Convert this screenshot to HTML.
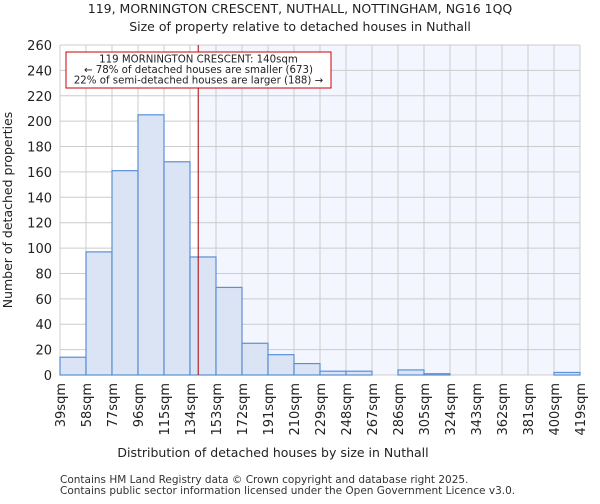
<!DOCTYPE html>
<html><head><meta charset="utf-8"><style>
body{margin:0;background:#fff;font-family:"DejaVu Sans","Liberation Sans",sans-serif;}
</style></head><body>
<svg width="600" height="500" viewBox="0 0 600 500" xmlns="http://www.w3.org/2000/svg" font-family="DejaVu Sans, Liberation Sans, sans-serif">
<text x="300" y="13" text-anchor="middle" font-size="12.5" fill="#222">119, MORNINGTON CRESCENT, NUTHALL, NOTTINGHAM, NG16 1QQ</text>
<text x="300" y="31" text-anchor="middle" font-size="12.5" fill="#222">Size of property relative to detached houses in Nuthall</text>
<g id="plot"></g>
<text x="273" y="457" text-anchor="middle" font-size="12.5" fill="#222">Distribution of detached houses by size in Nuthall</text>
<text transform="translate(12,210) rotate(-90)" text-anchor="middle" font-size="12.5" fill="#222">Number of detached properties</text>
<text x="60" y="483" font-size="10.5" fill="#333">Contains HM Land Registry data © Crown copyright and database right 2025.</text>
<text x="60" y="494" font-size="10.5" fill="#333">Contains public sector information licensed under the Open Government Licence v3.0.</text>
</svg>
<script>
const binEdges=[39,58,77,96,115,134,153,172,191,210,229,248,267,286,305,324,343,362,381,400,419];
const counts=[14,97,161,205,168,93,69,25,16,9,3,3,0,4,1,0,0,0,0,2];
const yTicks=[0,20,40,60,80,100,120,140,160,180,200,220,240,260];
const propertySize=140;
const annotationLines=["119 MORNINGTON CRESCENT: 140sqm","← 78% of detached houses are smaller (673)","22% of semi-detached houses are larger (188) →"];
const X0=60,X1=580,Y0=375,Y1=45,YMAX=260;
const xs=v=>X0+(v-binEdges[0])/(binEdges[binEdges.length-1]-binEdges[0])*(X1-X0);
const ys=v=>Y0-v/YMAX*(Y0-Y1);
const NS="http://www.w3.org/2000/svg";
const g=document.getElementById('plot');
function mk(t,a){const e=document.createElementNS(NS,t);for(const k in a)e.setAttribute(k,a[k]);g.appendChild(e);return e;}
let e;
e=mk('rect',{x:xs(propertySize),y:Y1,width:X1-xs(propertySize),height:Y0-Y1,fill:'#f3f6fe'});


yTicks.forEach(t=>{
 e=mk('line',{x1:X0,x2:X1,y1:ys(t),y2:ys(t),stroke:'#ccc','stroke-width':1});
 
 
 e=mk('text',{x:X0-8,y:ys(t)+5,'text-anchor':'end','font-size':13,fill:'#222'});e.textContent=t;
 
 
});
binEdges.forEach(b=>{
 e=mk('line',{x1:xs(b),x2:xs(b),y1:Y1,y2:Y0,stroke:'#ccc','stroke-width':1});
 
 
 e=mk('text',{transform:`translate(${xs(b)+5},${Y0+8}) rotate(-90)`,'text-anchor':'end','font-size':13,fill:'#222'});e.textContent=b+'sqm';
 
 
});
counts.forEach((c,i)=>{
 const x=xs(binEdges[i]),w=xs(binEdges[i+1])-x;
 e=mk('rect',{x:x,y:ys(c),width:w,height:Y0-ys(c),fill:'#dae4f4',stroke:'#5b8fd6','stroke-width':1.2});
 
 
});
e=mk('line',{x1:xs(propertySize),x2:xs(propertySize),y1:Y1,y2:Y0,stroke:'#a00','stroke-width':1});


e=mk('rect',{x:66,y:52,width:265,height:36,fill:'#fff',stroke:'#c00','stroke-width':1});


annotationLines.forEach((l,i)=>{
 e=mk('text',{x:198.5,y:62.5+i*10.5,'text-anchor':'middle','font-size':10.2,fill:'#222'});e.textContent=l;
 
 
});
</script>
</body></html>
